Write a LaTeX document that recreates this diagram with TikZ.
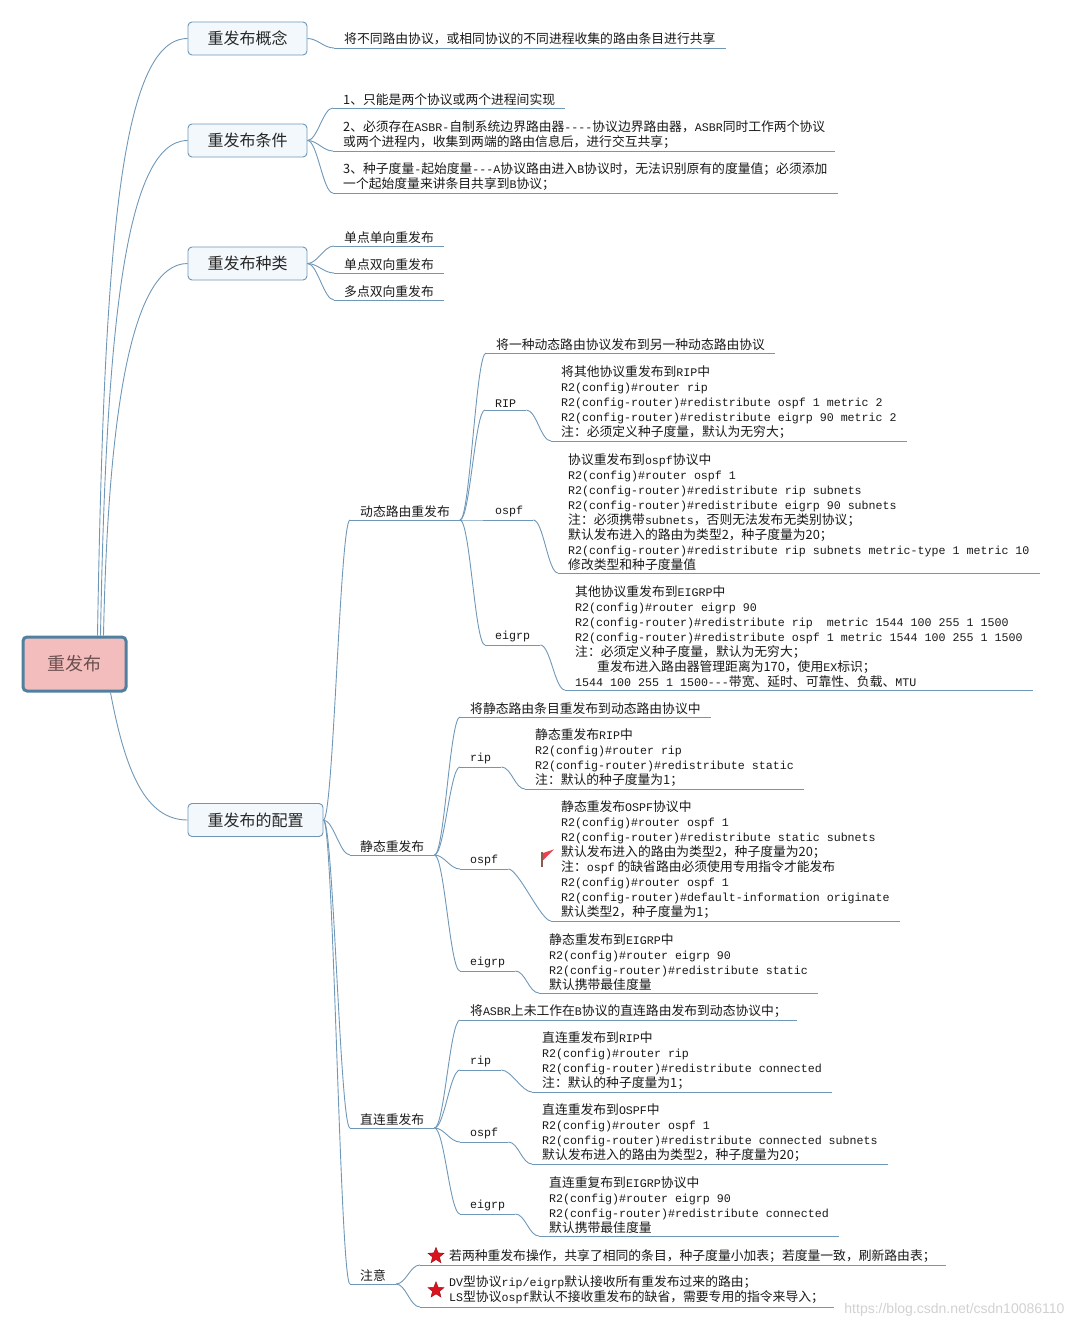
\documentclass[tikz,border=0pt]{standalone}
\usepackage{xcolor}
\usepackage{fontspec}
\usepackage{tikz}
\usetikzlibrary{shapes.geometric}
\setmainfont{Noto Sans CJK SC}
\setmonofont{Liberation Mono}[Scale=0.91]
\newfontfamily\wmfont{Liberation Sans}

\definecolor{linkblue}{HTML}{6F98B8}
\definecolor{boxline}{HTML}{6E96B6}
\definecolor{boxfill}{HTML}{F3F8FC}
\definecolor{rootline}{HTML}{50809F}
\definecolor{rootfill}{HTML}{F4BDBD}
\definecolor{roottext}{HTML}{6B4F4F}
\definecolor{starred}{HTML}{D9141E}
\definecolor{flagred}{HTML}{E8414F}
\definecolor{flagpole}{HTML}{8A5A4A}

\newcommand{\mono}[1]{{\ttfamily #1}}

\tikzset{
  link/.style={draw=linkblue, line width=0.9pt},
  twig/.style={out=0, in=180, out distance=10pt, in distance=10pt},
  rootbox/.style={draw=rootline, fill=rootfill, line width=3pt, rounded corners=4pt,
    minimum width=103pt, minimum height=54pt, text=roottext, font=\fontsize{18}{20}\selectfont},
  topicbox/.style={draw=boxline, fill=boxfill, line width=0.9pt, rounded corners=4pt,
    minimum width=119pt, minimum height=33pt, text=black!85, font=\fontsize{16}{18}\selectfont},
  leaf/.style={anchor=south west, inner xsep=10pt, inner ysep=2.5pt, align=left,
    text=black!90, font=\fontsize{12.8}{15}\selectfont},
  starmark/.style={star, star points=5, star point ratio=2.3, fill=starred, draw=starred!70!black,
    line width=0.4pt, minimum size=17pt, inner sep=0pt}
}

\begin{document}
\begin{tikzpicture}[x=1pt, y=-1pt]
    \useasboundingbox (0,0) rectangle (1074,1328);

    % root and main topics
    \node[rootbox] (root) at (74.5,664) {重发布};
    \node[topicbox] (concept) at (247.5,38.5) {重发布概念};
    \node[topicbox] (cond) at (247.5,140.5) {重发布条件};
    \node[topicbox] (kind) at (247.5,263.5) {重发布种类};
    \node[topicbox, minimum width=135pt] (config) at (255.5,820) {重发布的配置};

    \draw[link] ([xshift=23pt]root.north) .. controls (104,250) and (120,38.5) .. (concept.west);
    \draw[link] ([xshift=26pt]root.north) .. controls (106,330) and (125,140.5) .. (cond.west);
    \draw[link] ([xshift=29pt]root.north) .. controls (108,420) and (130,263.5) .. (kind.west);
    \draw[link] ([xshift=36pt]root.south) .. controls (125,770) and (145,820) .. (config.west);

    % concept
    \node[leaf] (conc1) at (334,48) {将不同路由协议，或相同协议的不同进程收集的路由条目进行共享};

    % conditions
    \node[leaf] (cond1) at (333,108) {1、只能是两个协议或两个进程间实现};
    \node[leaf] (cond2) at (333,151) {2、必须存在\mono{ASBR-}自制系统边界路由器\mono{----}协议边界路由器，\mono{ASBR}同时工作两个协议\\或两个进程内，收集到两端的路由信息后，进行交互共享；};
    \node[leaf] (cond3) at (333,193) {3、种子度量\mono{-}起始度量\mono{---A}协议路由进入\mono{B}协议时，无法识别原有的度量值；必须添加\\一个起始度量来讲条目共享到\mono{B}协议；};

    % kinds
    \node[leaf] (kind1) at (334,246) {单点单向重发布};
    \node[leaf] (kind2) at (334,273) {单点双向重发布};
    \node[leaf] (kind3) at (334,300) {多点双向重发布};

    % configuration
    \node[leaf] (dyn) at (350,520) {动态路由重发布};
    \node[leaf] (stat) at (350,855) {静态重发布};
    \node[leaf] (conn) at (350,1128) {直连重发布};
    \node[leaf] (note) at (350,1284) {注意};

    % dynamic
    \node[leaf] (dynIntro) at (486,353) {将一种动态路由协议发布到另一种动态路由协议};
    \node[leaf] (dynRip) at (485,410) {\mono{RIP}};
    \node[leaf] (dynOspf) at (485,520) {\mono{ospf}};
    \node[leaf] (dynEigrp) at (485,645) {\mono{eigrp}};
    \node[leaf] (dynRipT) at (551,441) {将其他协议重发布到\mono{RIP}中\\
      \mono{R2(config)\#router rip}\\
      \mono{R2(config-router)\#redistribute ospf 1 metric 2}\\
      \mono{R2(config-router)\#redistribute eigrp 90 metric 2}\\
      注：必须定义种子度量，默认为无穷大；};
    \node[leaf] (dynOspfT) at (558,573) {协议重发布到\mono{ospf}协议中\\
      \mono{R2(config)\#router ospf 1}\\
      \mono{R2(config-router)\#redistribute rip subnets}\\
      \mono{R2(config-router)\#redistribute eigrp 90 subnets}\\
      注：必须携带\mono{subnets}，否则无法发布无类别协议；\\
      默认发布进入的路由为类型2，种子度量为20；\\
      \mono{R2(config-router)\#redistribute rip subnets metric-type 1 metric 10}\\
      修改类型和种子度量值};
    \node[leaf] (dynEigrpT) at (565,690) {其他协议重发布到\mono{EIGRP}中\\
      \mono{R2(config)\#router eigrp 90}\\
      \mono{R2(config-router)\#redistribute rip\ \ metric 1544 100 255 1 1500}\\
      \mono{R2(config-router)\#redistribute ospf 1 metric 1544 100 255 1 1500}\\
      注：必须定义种子度量，默认为无穷大；\\
      \hspace*{22pt}重发布进入路由器管理距离为170，使用\mono{EX}标识；\\
      \mono{1544 100 255 1 1500---}带宽、延时、可靠性、负载、\mono{MTU}};

    % static
    \node[leaf] (statIntro) at (460,717) {将静态路由条目重发布到动态路由协议中};
    \node[leaf] (statRip) at (460,767) {\mono{rip}};
    \node[leaf] (statOspf) at (460,869) {\mono{ospf}};
    \node[leaf] (statEigrp) at (460,971) {\mono{eigrp}};
    \node[leaf] (statRipT) at (525,789) {静态重发布\mono{RIP}中\\
      \mono{R2(config)\#router rip}\\
      \mono{R2(config-router)\#redistribute static}\\
      注：默认的种子度量为1；};
    \node[leaf] (statOspfT) at (551,921) {静态重发布\mono{OSPF}协议中\\
      \mono{R2(config)\#router ospf 1}\\
      \mono{R2(config-router)\#redistribute static subnets}\\
      默认发布进入的路由为类型2，种子度量为20；\\
      注：\mono{ospf} 的缺省路由必须使用专用指令才能发布\\
      \mono{R2(config)\#router ospf 1}\\
      \mono{R2(config-router)\#default-information originate}\\
      默认类型2，种子度量为1；};
    \node[leaf] (statEigrpT) at (539,993) {静态重发布到\mono{EIGRP}中\\
      \mono{R2(config)\#router eigrp 90}\\
      \mono{R2(config-router)\#redistribute static}\\
      默认携带最佳度量};

    % flag on the ospf note
    \begin{scope}[shift={(statOspfT.west)}]
        \fill[flagred] (-9,-6) -- (3,-10) -- (-9,2) -- cycle;
        \draw[flagpole, line width=1.4pt] (-9,-7) -- (-9,8);
    \end{scope}

    % connected
    \node[leaf] (connIntro) at (460,1020) {将\mono{ASBR}上未工作在\mono{B}协议的直连路由发布到动态协议中；};
    \node[leaf] (connRip) at (460,1070) {\mono{rip}};
    \node[leaf] (connOspf) at (460,1142) {\mono{ospf}};
    \node[leaf] (connEigrp) at (460,1214) {\mono{eigrp}};
    \node[leaf] (connRipT) at (532,1092) {直连重发布到\mono{RIP}中\\
      \mono{R2(config)\#router rip}\\
      \mono{R2(config-router)\#redistribute connected}\\
      注：默认的种子度量为1；};
    \node[leaf] (connOspfT) at (532,1164) {直连重发布到\mono{OSPF}中\\
      \mono{R2(config)\#router ospf 1}\\
      \mono{R2(config-router)\#redistribute connected subnets}\\
      默认发布进入的路由为类型2，种子度量为20；};
    \node[leaf] (connEigrpT) at (539,1236) {直连重复布到\mono{EIGRP}协议中\\
      \mono{R2(config)\#router eigrp 90}\\
      \mono{R2(config-router)\#redistribute connected}\\
      默认携带最佳度量};

    % notes
    \node[leaf] (note1) at (420,1265) {\hspace*{19pt}若两种重发布操作，共享了相同的条目，种子度量小加表；若度量一致，刷新路由表；};
    \node[leaf] (note2) at (420,1307) {\hspace*{19pt}\mono{DV}型协议\mono{rip/eigrp}默认接收所有重发布过来的路由；\\
      \hspace*{19pt}\mono{LS}型协议\mono{ospf}默认不接收重发布的缺省，需要专用的指令来导入；};
    \node[starmark] (star1) at ([xshift=16pt]note1.west) {};
    \node[starmark] (star2) at ([xshift=16pt]note2.west) {};

    % underlines
    \foreach \n in {conc1,cond1,cond2,cond3,kind1,kind2,kind3,dyn,stat,conn,note,
        dynIntro,dynRip,dynOspf,dynEigrp,dynRipT,dynOspfT,dynEigrpT,
        statIntro,statRip,statOspf,statEigrp,statRipT,statOspfT,statEigrpT,
        connIntro,connRip,connOspf,connEigrp,connRipT,connOspfT,connEigrpT,note1,note2}
        \draw[link] (\n.south west) -- (\n.south east);

    % box to topic
    \foreach \src/\dst in {concept/conc1, cond/cond1, cond/cond2, cond/cond3,
        kind/kind1, kind/kind2, kind/kind3,
        config/dyn, config/stat, config/conn, config/note}
        \draw[link] (\src.east) to[twig] (\dst.south west);

    % topic to topic
    \foreach \src/\dst in {dyn/dynIntro, dyn/dynRip, dyn/dynOspf, dyn/dynEigrp,
        dynRip/dynRipT, dynOspf/dynOspfT, dynEigrp/dynEigrpT,
        stat/statIntro, stat/statRip, stat/statOspf, stat/statEigrp,
        statRip/statRipT, statOspf/statOspfT, statEigrp/statEigrpT,
        conn/connIntro, conn/connRip, conn/connOspf, conn/connEigrp,
        connRip/connRipT, connOspf/connOspfT, connEigrp/connEigrpT,
        note/note1, note/note2}
        \draw[link] (\src.south east) to[twig] (\dst.south west);

    \node[text=black!18, font=\wmfont\fontsize{14}{16}\selectfont, anchor=east] (wm) at (1068,1310) {https://blog.csdn.net/csdn10086110};
\end{tikzpicture}
\end{document}
